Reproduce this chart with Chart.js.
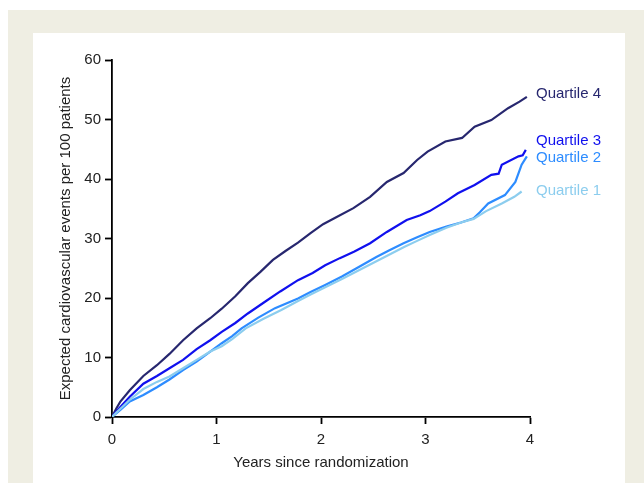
<!DOCTYPE html>
<html>
<head>
<meta charset="utf-8">
<script src="https://cdn.jsdelivr.net/npm/chart.js@4.4.1/dist/chart.umd.min.js"></script>
<style>
  html, body { margin: 0; padding: 0; background: #ffffff; }
  #outer { position: absolute; left: 8px; top: 10px; width: 636px; height: 473px; background: #efeee3; }
  #inner { position: absolute; left: 33px; top: 33px; width: 592px; height: 450px; background: #ffffff; }
  #wrap { position: absolute; left: 0; top: 0; width: 644px; height: 483px; }
</style>
</head>
<body>
<div id="outer"></div>
<div id="inner"></div>
<div id="wrap"><canvas id="c" width="644" height="483"></canvas></div>
<script>
// ---- data (years since randomization, expected events per 100 patients) ----
const seriesNames = ["Quartile 1", "Quartile 2", "Quartile 3", "Quartile 4"];
const xTicks = [0, 1, 2, 3, 4];
const yTicks = [0, 10, 20, 30, 40, 50, 60];

const q1Years  = [0, 0.04, 0.08, 0.17, 0.30, 0.43, 0.55, 0.68, 0.81, 0.94, 1.05, 1.15, 1.28, 1.45, 1.62, 1.78, 1.90, 2.04, 2.20, 2.40, 2.60, 2.80, 2.92, 3.04, 3.20, 3.34, 3.46, 3.58, 3.73, 3.85, 3.92];
const q1Values = [0, 0.7, 1.4, 2.9, 4.7, 5.9, 6.8, 8.2, 9.6, 11.0, 11.9, 13.1, 14.9, 16.5, 18.0, 19.5, 20.6, 21.8, 23.2, 25.0, 26.8, 28.6, 29.6, 30.6, 31.8, 32.7, 33.3, 34.6, 35.9, 37.0, 37.9];

const q2Years  = [0, 0.04, 0.08, 0.17, 0.30, 0.43, 0.55, 0.68, 0.81, 0.94, 1.05, 1.15, 1.24, 1.40, 1.56, 1.78, 1.90, 2.04, 2.20, 2.37, 2.53, 2.65, 2.79, 2.92, 3.04, 3.20, 3.34, 3.46, 3.52, 3.60, 3.76, 3.86, 3.92, 3.97];
const q2Values = [0, 0.6, 1.2, 2.6, 3.7, 5.0, 6.3, 7.9, 9.3, 11.0, 12.4, 13.6, 14.9, 16.7, 18.3, 19.9, 21.0, 22.2, 23.6, 25.3, 26.9, 28.0, 29.2, 30.2, 31.1, 32.0, 32.7, 33.4, 34.4, 35.9, 37.3, 39.5, 42.4, 43.8];

const q3Years  = [0, 0.04, 0.08, 0.17, 0.30, 0.43, 0.55, 0.68, 0.81, 0.94, 1.05, 1.18, 1.30, 1.45, 1.61, 1.78, 1.92, 2.04, 2.18, 2.32, 2.47, 2.63, 2.82, 2.95, 3.04, 3.19, 3.31, 3.47, 3.63, 3.70, 3.73, 3.89, 3.93, 3.96];
const q3Values = [0, 0.9, 1.7, 3.4, 5.6, 6.9, 8.2, 9.6, 11.4, 12.9, 14.3, 15.8, 17.4, 19.2, 21.1, 23.0, 24.2, 25.5, 26.7, 27.8, 29.2, 31.1, 33.1, 33.9, 34.6, 36.2, 37.6, 39.0, 40.7, 40.9, 42.4, 43.8, 44.0, 44.9];

const q4Years  = [0, 0.04, 0.08, 0.17, 0.30, 0.43, 0.55, 0.68, 0.81, 0.94, 1.05, 1.18, 1.30, 1.42, 1.54, 1.66, 1.78, 1.90, 2.02, 2.15, 2.31, 2.47, 2.63, 2.79, 2.92, 3.02, 3.19, 3.35, 3.47, 3.63, 3.79, 3.90, 3.97];
const q4Values = [0, 1.4, 2.6, 4.5, 6.9, 8.7, 10.6, 12.9, 14.9, 16.6, 18.2, 20.3, 22.5, 24.4, 26.4, 27.9, 29.3, 30.9, 32.4, 33.6, 35.1, 37.0, 39.5, 41.0, 43.2, 44.6, 46.3, 46.9, 48.8, 49.9, 51.9, 53.0, 53.8];

const seriesYears  = [q1Years, q2Years, q3Years, q4Years];
const seriesValues = [q1Values, q2Values, q3Values, q4Values];
const seriesColors = ["#8ccdee", "#2d8cff", "#1010ee", "#27276f"];
// end-label vertical positions (in data units) to mimic the reference
const labelValues = [37.9, 43.4, 46.2, 54.1];

const FONT = "'Liberation Sans', Arial, Helvetica, sans-serif";

const datasets = seriesNames.map((name, i) => ({
  label: name,
  data: seriesYears[i].map((x, j) => ({ x: x, y: seriesValues[i][j] })),
  borderColor: seriesColors[i],
  borderWidth: 2.2,
  pointRadius: 0,
  fill: false,
  tension: 0
}));

const endLabels = {
  id: 'endLabels',
  afterDatasetsDraw(chart) {
    const ctx = chart.ctx;
    const ys = chart.scales.y;
    const xs = chart.scales.x;
    ctx.save();
    ctx.font = "15px " + FONT;
    ctx.textBaseline = 'middle';
    ctx.textAlign = 'left';
    seriesNames.forEach((name, i) => {
      ctx.fillStyle = seriesColors[i];
      ctx.fillText(name, xs.right + 6, ys.getPixelForValue(labelValues[i]) - 1);
    });
    ctx.restore();
  }
};

new Chart(document.getElementById('c'), {
  type: 'line',
  data: { datasets: datasets },
  options: {
    responsive: false,
    animation: false,
    devicePixelRatio: 1,
    layout: { padding: { left: 57, right: 114, top: 60, bottom: 11 } },
    plugins: { legend: { display: false }, tooltip: { enabled: false } },
    scales: {
      x: {
        type: 'linear',
        min: 0, max: 4,
        afterBuildTicks(scale) { scale.ticks = xTicks.map(v => ({ value: v })); },
        afterFit(scale) { scale.height = 55; },
        border: { color: '#000', width: 1.8 },
        grid: { drawOnChartArea: false, drawTicks: true, tickLength: 7, tickColor: '#000', tickWidth: 1.8 },
        ticks: { color: '#222', font: { family: FONT, size: 15 }, padding: 7, maxRotation: 0 },
        title: { display: true, text: 'Years since randomization', color: '#222', font: { family: FONT, size: 15 }, padding: 0 }
      },
      y: {
        type: 'linear',
        min: 0, max: 60,
        afterBuildTicks(scale) { scale.ticks = yTicks.map(v => ({ value: v })); },
        afterFit(scale) { scale.width = 55; },
        border: { color: '#000', width: 1.8 },
        grid: { drawOnChartArea: false, drawTicks: true, tickLength: 7, tickColor: '#000', tickWidth: 1.8 },
        ticks: { color: '#222', font: { family: FONT, size: 15 }, padding: 4 },
        title: { display: true, text: 'Expected cardiovascular events per 100 patients', color: '#222', font: { family: FONT, size: 15 }, padding: 0 }
      }
    }
  },
  plugins: [endLabels]
});
</script>
</body>
</html>
